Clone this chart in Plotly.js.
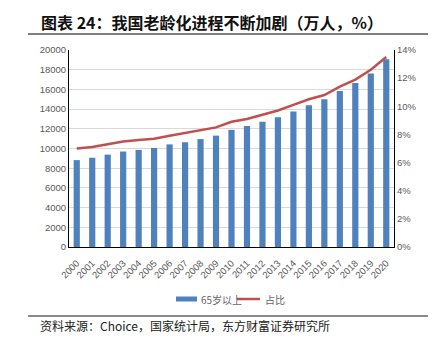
<!DOCTYPE html>
<html>
<head>
<meta charset="utf-8">
<script src="https://cdn.plot.ly/plotly-3.0.1.min.js"></script>
<style>html,body{margin:0;padding:0;background:#fff;}#chart{width:446px;height:340px;}</style>
</head>
<body>
<div id="chart"></div>
<script>
const years = ["2000","2001","2002","2003","2004","2005","2006","2007","2008","2009","2010","2011","2012","2013","2014","2015","2016","2017","2018","2019","2020"];
const pop65 = [8821,9062,9377,9692,9857,10055,10419,10636,10956,11307,11894,12288,12714,13161,13755,14386,15003,15831,16658,17603,19064];
const share = [7.0,7.1,7.3,7.5,7.6,7.7,7.9,8.1,8.3,8.5,8.9,9.1,9.4,9.7,10.1,10.5,10.8,11.4,11.9,12.6,13.5];
const seriesNames = ["65岁以上","占比"];
const titleText = "图表 24：我国老龄化进程不断加剧（万人，%）";
const sourceText = "资料来源：Choice，国家统计局，东方财富证券研究所";

const W = 446, H = 340, L = 69, R = 52, T = 50, B = 93;
const pw = W - L - R, ph = H - T - B;
const px = x => (x - L) / pw;
const py = y => 1 - (y - T) / ph;

const tickFont = {family: "'Liberation Sans Narrow', 'Liberation Sans', Arial, sans-serif", size: 9.5, color: "#595959"};
const cjk = "'Noto Sans CJK SC', sans-serif";

const traces = [
  {type: "bar", x: years, y: pop65, name: seriesNames[0], marker: {color: "#4F81BD"}, width: 0.4, showlegend: false, hoverinfo: "skip"},
  {type: "scatter", mode: "lines", x: years, y: share, yaxis: "y2", name: seriesNames[1], line: {color: "#C0504D", width: 2.5}, showlegend: false, hoverinfo: "skip"}
];

const layout = {
  width: W, height: H,
  margin: {l: L, r: R, t: T, b: B, pad: 0},
  paper_bgcolor: "#fff", plot_bgcolor: "#fff",
  showlegend: false,
  xaxis: {type: "category", tickangle: -45, tickfont: tickFont, showgrid: false, showline: true, linecolor: "#000", linewidth: 1, ticks: "outside", ticklen: 6, tickcolor: "rgba(0,0,0,0)", fixedrange: true},
  yaxis: {range: [0, 20000], dtick: 2000, tickfont: tickFont, showgrid: true, gridcolor: "#D9D9D9", gridwidth: 1, showline: true, linecolor: "#000", linewidth: 1, zeroline: false, ticks: "", tickformat: "d"},
  yaxis2: {range: [0, 14], dtick: 2, ticksuffix: "%", overlaying: "y", side: "right", tickfont: tickFont, showgrid: false, showline: true, linecolor: "#000", linewidth: 1, zeroline: false, ticks: ""},
  shapes: [
    {type: "line", xref: "paper", yref: "paper", x0: px(28), x1: px(428), y0: py(34), y1: py(34), line: {color: "#000", width: 1}},
    {type: "line", xref: "paper", yref: "paper", x0: px(28), x1: px(428), y0: py(316), y1: py(316), line: {color: "#8C8C8C", width: 2}},
    {type: "rect", xref: "paper", yref: "paper", x0: px(176), x1: px(197), y0: py(296.5), y1: py(301.5), line: {width: 0}, fillcolor: "#4F81BD"},
    {type: "line", xref: "paper", yref: "paper", x0: px(237), x1: px(260), y0: py(299), y1: py(299), line: {color: "#C0504D", width: 2.5}}
  ],
  annotations: [
    {text: "<b>" + titleText + "</b>", xref: "paper", yref: "paper", x: px(39), y: py(22), xanchor: "left", yanchor: "middle", showarrow: false, font: {family: cjk, size: 16, color: "#111"}},
    {text: sourceText, xref: "paper", yref: "paper", x: px(38), y: py(325), xanchor: "left", yanchor: "middle", showarrow: false, font: {family: cjk, size: 12, color: "#222"}},
    {text: seriesNames[0], xref: "paper", yref: "paper", x: px(199), y: py(299), xanchor: "left", yanchor: "middle", showarrow: false, font: {family: cjk, size: 10, color: "#666"}},
    {text: seriesNames[1], xref: "paper", yref: "paper", x: px(263), y: py(299), xanchor: "left", yanchor: "middle", showarrow: false, font: {family: cjk, size: 10, color: "#666"}}
  ]
};

Plotly.newPlot("chart", traces, layout, {displayModeBar: false, staticPlot: true});
</script>
</body>
</html>
